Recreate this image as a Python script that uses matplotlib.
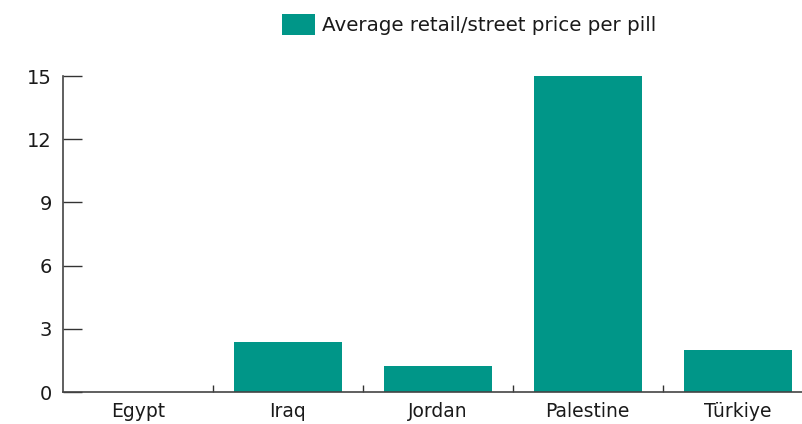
import matplotlib
matplotlib.use('Agg')
import matplotlib.pyplot as plt
from matplotlib.ticker import FixedLocator
from matplotlib.patches import Patch

countries = ['Egypt', 'Iraq', 'Jordan', 'Palestine', 'Türkiye']
prices = [0, 2.35, 1.25, 15, 1.97]
series_label = 'Average retail/street price per pill'
yticks = [0, 3, 6, 9, 12, 15]

BAR = '#009688'
TXT = '#1a1a1a'
plt.rcParams['font.family'] = ['DejaVu Sans']

fig = plt.figure(figsize=(8.02, 4.24), dpi=100)
ax = fig.add_axes([63 / 802, 32 / 424, 1 - 63 / 802, 316 / 424])

x = list(range(len(countries)))
ax.bar(x, prices, width=0.72, color=BAR, zorder=2)

ax.set_xlim(-0.5, 4.43)
ax.set_ylim(0, 15)
ax.set_yticks(yticks)
ax.set_xticks(x)
ax.set_xticklabels(countries, fontsize=13.5, color=TXT)
ax.xaxis.set_minor_locator(FixedLocator([0.5, 1.5, 2.5, 3.5]))
ax.tick_params(axis='x', which='major', length=0, pad=7)
ax.tick_params(axis='x', which='minor', direction='in', length=5, width=1, color='#333333')
ax.tick_params(axis='y', direction='in', length=13.5, width=1, color='#333333',
               labelsize=14, pad=8, labelcolor=TXT)

for s in ('top', 'right'):
    ax.spines[s].set_visible(False)
for s in ('left', 'bottom'):
    ax.spines[s].set_color('#444444')
    ax.spines[s].set_linewidth(1.2)

handle = Patch(facecolor=BAR, label=series_label)
fig.legend(handles=[handle], loc='upper left', bbox_to_anchor=(264 / 802, 1.008),
           frameon=False, fontsize=14.3, handlelength=1.66, handleheight=1.2,
           handletextpad=0.35, labelcolor=TXT)

fig.savefig('out.png', dpi=100, facecolor='white')
